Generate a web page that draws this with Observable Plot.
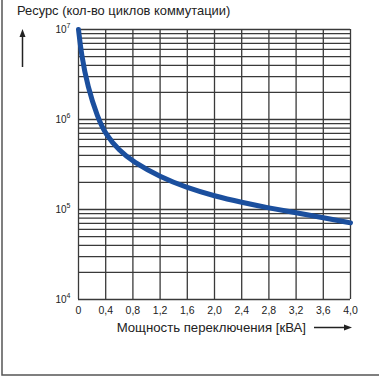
<!DOCTYPE html>
<html>
<head>
<meta charset="utf-8">
<script src="https://cdn.jsdelivr.net/npm/d3@7"></script>
<script src="https://cdn.jsdelivr.net/npm/@observablehq/plot@0.6"></script>
<style>
  html, body { margin: 0; padding: 0; background: #fff; }
  svg { display: block; }
</style>
</head>
<body>
<div id="chart"></div>
<script>
// Data
const power = [0, 0.04, 0.135, 0.28, 0.4, 0.6, 0.8, 1.2, 1.6, 2.0, 2.4, 2.8, 3.2, 3.6, 4.0];
const cycles = [1e7, 5.4e6, 2.3e6, 1.06e6, 6.8e5, 4.5e5, 3.4e5, 2.3e5, 1.74e5, 1.41e5, 1.2e5, 1.04e5, 9.2e4, 8.1e4, 7.1e4];

const xTicks = [0, 0.4, 0.8, 1.2, 1.6, 2.0, 2.4, 2.8, 3.2, 3.6, 4.0];
const xTickLabels = ["0", "0,4", "0,8", "1,2", "1,6", "2,0", "2,4", "2,8", "3,2", "3,6", "4,0"];
const yDecades = [1e4, 1e5, 1e6, 1e7];
const yExponents = ["4", "5", "6", "7"];
const yMinor = [2, 3, 4, 5, 6, 7, 8, 9];

const titleText = "Ресурс (кол-во циклов коммутации)";
const xLabelText = "Мощность переключения [кВА]";

const data = power.map((p, i) => ({p, c: cycles[i]}));
const yGrid = yDecades.slice(0, -1).flatMap(d => yMinor.map(m => d * m)).concat(yDecades);
const xTickData = xTicks.map((v, i) => ({v, label: xTickLabels[i]}));
const yTickData = yDecades.map((v, i) => ({v, e: yExponents[i]}));

const font = "'Liberation Sans', Arial, Helvetica, sans-serif";
const gridColor = "#3a3a3a";

const plot = Plot.plot({
  width: 379,
  height: 380,
  marginLeft: 78,
  marginRight: 29,
  marginTop: 29,
  marginBottom: 81,
  style: {fontFamily: font, background: "#fff", color: "#222"},
  x: {domain: [0, 4], axis: null},
  y: {type: "log", domain: [1e4, 1e7], axis: null},
  marks: [
    Plot.ruleY(yGrid, {stroke: gridColor, strokeWidth: 1.3}),
    Plot.ruleX(xTicks, {stroke: gridColor, strokeWidth: 1.3}),
    Plot.line(data, {x: "p", y: "c", curve: "basis", stroke: "#1b4f9e", strokeWidth: 5, strokeLinecap: "round"}),
    Plot.text(xTickData, {x: "v", y: 1e4, text: "label", dy: 11, fontSize: 10.5, fill: "#222"}),
    Plot.text(yTickData, {x: 0, y: "v", text: () => "10", textAnchor: "end", dx: -12, dy: 0, fontSize: 10, fill: "#222"}),
    Plot.text(yTickData, {x: 0, y: "v", text: "e", textAnchor: "start", dx: -12, dy: -4, fontSize: 7, fill: "#222"})
  ]
});

const svg = d3.select(plot);
svg.attr("font-family", font);

// outer border (left and bottom)
svg.append("path")
  .attr("d", "M2,0 V375 H379")
  .attr("fill", "none")
  .attr("stroke", "#555")
  .attr("stroke-width", 1.5);

// title
svg.append("text")
  .attr("x", 17).attr("y", 15)
  .attr("text-anchor", "start")
  .attr("font-size", 12.9)
  .attr("fill", "#222")
  .text(titleText);

// x label
svg.append("text")
  .attr("x", 306).attr("y", 332)
  .attr("text-anchor", "end")
  .attr("font-size", 13.2)
  .attr("fill", "#222")
  .text(xLabelText);

// up arrow
svg.append("line").attr("x1", 22.5).attr("y1", 67).attr("x2", 22.5).attr("y2", 36)
  .attr("stroke", "#222").attr("stroke-width", 1.5);
svg.append("path").attr("d", "M22.5,29 L19.5,37 L25.5,37 Z").attr("fill", "#222");

// right arrow
svg.append("line").attr("x1", 314).attr("y1", 327.5).attr("x2", 345).attr("y2", 327.5)
  .attr("stroke", "#222").attr("stroke-width", 1.5);
svg.append("path").attr("d", "M352,327.5 L344,324.5 L344,330.5 Z").attr("fill", "#222");

document.getElementById("chart").appendChild(plot);
</script>
</body>
</html>
